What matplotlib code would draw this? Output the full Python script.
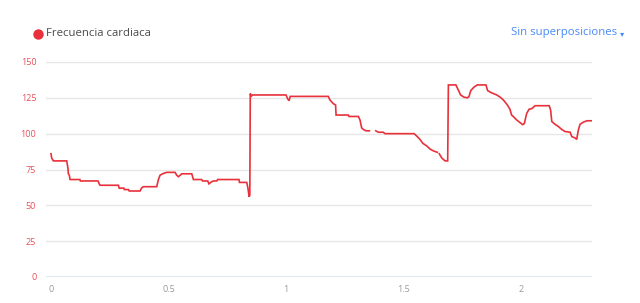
import numpy as np
import matplotlib
matplotlib.use("Agg")
import matplotlib.pyplot as plt
from matplotlib.lines import Line2D

# Distance (km) and heart rate (bpm); NaN marks gaps in the trace
distance = [0.000, 0.003, 0.010, 0.067, 0.072, 0.074, 0.078, 0.081, 0.123, 0.125,
            0.200, 0.205, 0.209, 0.287, 0.290, 0.310, 0.312, 0.330, 0.333, 0.379,
            0.385, 0.393, 0.450, 0.457, 0.464, 0.475, 0.492, 0.528, 0.535, 0.542,
            0.550, 0.556, 0.599, 0.606, 0.641, 0.645, 0.667, 0.672, 0.680, 0.690,
            0.705, 0.709, 0.800, 0.802, 0.833, 0.838, 0.843, 0.846, 0.848, 0.852,
            0.857, 1.000, 1.008, 1.013, 1.018, 1.180, 1.187, 1.201, 1.211, 1.213,
            1.265, 1.268, 1.308, 1.315, 1.322, 1.329, 1.340, 1.355, 1.368, 1.382,
            1.393, 1.414, 1.421, 1.545, 1.556, 1.570, 1.582, 1.599, 1.613, 1.627,
            1.644, 1.648, 1.652, 1.663, 1.677, 1.688, 1.691, 1.723, 1.733, 1.743,
            1.757, 1.772, 1.779, 1.786, 1.800, 1.814, 1.851, 1.858, 1.875, 1.897,
            1.911, 1.925, 1.942, 1.953, 1.960, 1.967, 1.982, 1.996, 2.007, 2.014,
            2.024, 2.034, 2.046, 2.060, 2.120, 2.126, 2.131, 2.145, 2.159, 2.173,
            2.187, 2.209, 2.216, 2.230, 2.237, 2.244, 2.251, 2.265, 2.280, 2.300]
heart_rate = [86, 83, 81, 81, 76, 72, 71, 68, 68, 67,
              67, 65, 64, 64, 62, 62, 61, 61, 60, 60,
              62, 63, 63, 68, 71, 72, 73, 73, 71, 70,
              71, 72, 72, 68, 68, 67, 67, 65, 66, 67,
              67, 68, 68, 66, 66, 62, 56, 57, 128, 126,
              127, 127, 124, 123, 126, 126, 123.5, 121, 120, 113,
              113, 112, 112, 109.5, 104, 103, 102, 102, np.nan, 102,
              101, 101, 100, 100, 98.4, 96, 93.3, 91.4, 89.3, 88,
              87, np.nan, 86, 83, 81, 81, 134, 134, 130.5, 127,
              125.5, 125, 126, 130, 132.5, 134, 134, 130, 128.5, 127,
              125.5, 123.5, 120, 117, 113, 112, 109.5, 107.7, 106.3, 107,
              114, 117, 117.5, 119.5, 119.5, 116.5, 108.5, 106.5, 105, 103,
              101.5, 101, 98, 97, 96, 102.5, 106.5, 108, 109, 109]

y_ticks = [0, 25, 50, 75, 100, 125, 150]
x_ticks = [0, 0.5, 1, 1.5, 2]
x_tick_labels = ["0", "0.5", "1", "1.5", "2"]
series_name = "Frecuencia cardiaca"
menu_label = "Sin superposiciones"

plt.rcParams['font.family'] = ['Open Sans', 'DejaVu Sans']

RED = "#e8313b"
fig = plt.figure(figsize=(6.4, 3.03), dpi=100)
ax = fig.add_axes([46/640, 1-277/303, (592-46)/640, (277-62)/303])

ax.plot(distance, heart_rate, color=RED, lw=1.2, solid_joinstyle='miter', zorder=3)

ax.set_xlim(-5/235, (592-51)/235)
ax.set_ylim(0, 150)
ax.set_yticks(y_ticks)
ax.set_yticklabels([str(v) for v in y_ticks])
ax.set_xticks(x_ticks)
ax.set_xticklabels(x_tick_labels)
for v in y_ticks[1:]:
    ax.axhline(v, color="#e6e6e6", lw=1.0, zorder=1)
ax.axhline(0, color="#dde4ec", lw=2.0, zorder=1)

for s in ax.spines.values():
    s.set_visible(False)
ax.tick_params(axis='both', length=0)
ax.tick_params(axis='y', colors="#e8505a", labelsize=6.5, pad=7)
ax.tick_params(axis='x', colors="#9a9a9a", labelsize=6.5, pad=6)

# legend-like header
fig.add_artist(Line2D([38/640], [1-34/303], marker='o', markersize=7.5,
                      color=RED, markeredgewidth=0, transform=fig.transFigure))
fig.text(46.5/640, 1-34/303, series_name, color="#4a4a4a", fontsize=8.2, ha='left', va='center')
fig.text(617/640, 1-33/303, menu_label, color="#4a8af4", fontsize=8.2, ha='right', va='center')
fig.text(622/640, 1-34.5/303, "\u25BE", color="#4a8af4", fontsize=6, ha='center', va='center')

fig.savefig("out.png", dpi=100)
